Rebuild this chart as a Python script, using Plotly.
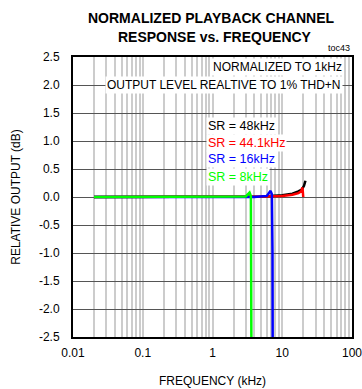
import plotly.graph_objects as go

# ---- data ----
freq_48 = [0.02, 0.05, 0.1, 0.2, 0.5, 1, 2, 5, 10, 14, 17, 19, 20.5, 21.5]
gain_48 = [0, 0, 0, 0, 0, 0, 0, 0.01, 0.03, 0.06, 0.1, 0.13, 0.2, 0.29]

freq_441 = [0.02, 0.05, 0.1, 0.2, 0.5, 1, 2, 5, 10, 14, 17, 18.7, 19.5, 19.8, 20.0]
gain_441 = [0, 0, 0, 0.01, 0.01, 0, 0, 0.01, 0.02, 0.04, 0.07, 0.1, 0.17, 0.08, 0]

freq_16 = [0.02, 0.05, 0.1, 0.2, 0.5, 1, 2, 4, 6, 6.8, 7.1, 7.25, 7.3]
gain_16 = [0, 0, 0, 0, 0, 0, 0, 0, 0.02, 0.11, 0.05, -1.0, -3.0]

freq_8 = [0.02, 0.05, 0.1, 0.2, 0.5, 1, 2, 3.0, 3.4, 3.55, 3.62]
gain_8 = [0, 0, 0, 0, 0, 0, 0, 0.01, 0.08, 0.02, -3.0]

series = [
    ("SR = 48kHz", freq_48, gain_48, "#000000"),
    ("SR = 44.1kHz", freq_441, gain_441, "#ff0000"),
    ("SR = 16kHz", freq_16, gain_16, "#0000ff"),
    ("SR = 8kHz", freq_8, gain_8, "#00ff00"),
]

x_tick_vals = []
x_tick_text = []
for dec in [0.01, 0.1, 1, 10]:
    for m in range(1, 10):
        x_tick_vals.append(round(dec * m, 4))
        x_tick_text.append(("%g" % dec) if m == 1 else "")
x_tick_vals.append(100)
x_tick_text.append("100")

y_tick_vals = [-2.5, -2.0, -1.5, -1.0, -0.5, 0.0, 0.5, 1.0, 1.5, 2.0, 2.5]
y_tick_text = ["%.1f" % v for v in y_tick_vals]

FONT = "Liberation Sans, Arial, sans-serif"

fig = go.Figure()
for name, f, g, c in series:
    fig.add_trace(go.Scatter(x=f, y=g, mode="lines", name=name,
                             line=dict(color=c, width=2.5), cliponaxis=True))

fig.update_layout(
    width=362, height=389,
    margin=dict(l=73, r=10, t=57, b=52, autoexpand=False),
    paper_bgcolor="white", plot_bgcolor="white",
    showlegend=False,
    font=dict(family=FONT, size=12, color="#000"),
    xaxis=dict(type="log", range=[-2, 2], tickmode="array",
               tickvals=x_tick_vals, ticktext=x_tick_text,
               showgrid=True, gridcolor="#cccccc", gridwidth=1.5,
               ticks="", showline=True, linecolor="#000", linewidth=2, mirror=True,
               zeroline=False, tickfont=dict(size=12), automargin=False,
               ticklabelstandoff=4, ticklabeloverflow="allow",
               title=dict(text="FREQUENCY (kHz)", font=dict(size=12), standoff=17)),
    yaxis=dict(range=[-2.5, 2.5], tickmode="array",
               tickvals=y_tick_vals, ticktext=y_tick_text,
               showgrid=True, gridcolor="#555555", gridwidth=1,
               ticks="", showline=True, linecolor="#000", linewidth=2, mirror=True,
               zeroline=False, tickfont=dict(size=12), automargin=False,
               ticklabelstandoff=9, ticklabeloverflow="allow",
               title=dict(text="RELATIVE OUTPUT (dB)", font=dict(size=12), standoff=16)),
)

# title as two bold lines placed in the top margin
fig.add_annotation(text="<b>NORMALIZED PLAYBACK CHANNEL</b>", xref="paper", yref="paper",
                   x=0.495, y=1.0, yshift=39, xanchor="center", yanchor="middle",
                   showarrow=False, font=dict(size=14))
fig.add_annotation(text="<b>RESPONSE vs. FREQUENCY</b>", xref="paper", yref="paper",
                   x=0.51, y=1.0, yshift=20, xanchor="center", yanchor="middle",
                   showarrow=False, font=dict(size=14))

fig.add_annotation(text="toc43", xref="paper", yref="paper", x=1.0, y=1.0,
                   xanchor="right", yanchor="bottom", yshift=2, showarrow=False,
                   font=dict(size=9))
fig.add_annotation(text="NORMALIZED TO 1kHz", xref="paper", yref="y", x=0.97, y=2.32,
                   xanchor="right", yanchor="middle", showarrow=False,
                   font=dict(size=12), bgcolor="white")
fig.add_annotation(text="OUTPUT LEVEL REALTIVE TO 1% THD+N", xref="paper", yref="y",
                   x=0.967, y=2.0, xanchor="right", yanchor="middle", showarrow=False,
                   font=dict(size=12), bgcolor="white", borderpad=1)

label_y = [1.27, 0.97, 0.67, 0.36]
for (name, f, g, c), ly in zip(series, label_y):
    fig.add_annotation(text=name, xref="paper", yref="y", x=0.475, y=ly,
                       xanchor="left", yanchor="middle", showarrow=False,
                       font=dict(size=12.5, color=c), bgcolor="white", borderpad=1)

fig.write_html("out.html", config={"displayModeBar": False},
               post_script="document.body.style.margin='0';")
